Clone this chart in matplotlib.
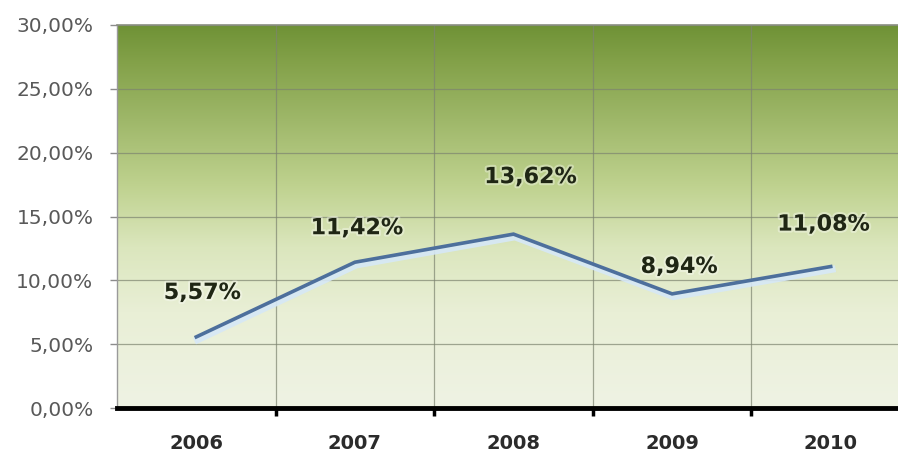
import matplotlib
matplotlib.use("Agg")
import matplotlib.pyplot as plt
import matplotlib.patheffects as pe
from matplotlib.colors import LinearSegmentedColormap
from matplotlib.ticker import FixedLocator, FuncFormatter
import numpy as np

matplotlib.rcParams['font.family'] = ['DejaVu Sans']

YEARS = ["2006", "2007", "2008", "2009", "2010"]
RATES = [5.57, 11.42, 13.62, 8.94, 11.08]
Y_TICKS = [0, 5, 10, 15, 20, 25, 30]

# label offsets from each point, in pixels
LABEL_OFFSETS = [(6, 44), (2, 34), (17, 57), (7, 27), (-7, 42)]

LINE_COLOR = "#4d6f9c"
GRID_COLOR = "#7d8470"


def pct(v, _pos=None):
    return f"{v:.2f}%".replace(".", ",")


def main():
    fig = plt.figure(figsize=(8.98, 4.55), dpi=100)
    ax = fig.add_axes([117 / 898, 47 / 455, 793 / 898, 383 / 455])

    x = np.arange(len(YEARS))
    ax.set_xlim(-0.5, len(YEARS) - 0.5)
    ax.set_ylim(0, 30)

    # vertical background gradient: olive at top fading to pale cream
    bg = LinearSegmentedColormap.from_list("bg", [
        (0.00, "#eff3e4"),
        (0.25, "#e9efd6"),
        (0.42, "#dbe6bd"),
        (0.58, "#bfd28f"),
        (0.75, "#9fb86a"),
        (0.90, "#84a24a"),
        (1.00, "#6f9236"),
    ])
    grad = np.linspace(0, 1, 256).reshape(-1, 1)
    ax.imshow(grad, cmap=bg, origin="lower", aspect="auto",
              extent=[0, 1, 0, 1], transform=ax.transAxes, zorder=0)

    # grid between categories and at every y tick
    bounds = np.arange(len(YEARS) - 1) + 0.5
    for b in bounds:
        ax.axvline(b, color=GRID_COLOR, lw=0.9, alpha=0.7, zorder=1)
    for t in Y_TICKS[1:]:
        ax.axhline(t, color=GRID_COLOR, lw=0.9, alpha=0.7, zorder=1)

    ax.plot(x, RATES, color=LINE_COLOR, lw=2.6, zorder=3,
            solid_joinstyle="miter",
            path_effects=[pe.SimpleLineShadow(offset=(1, -2), shadow_color="#d6e8f7",
                                              alpha=0.9, linewidth=5),
                          pe.Normal()])

    for xi, v, (dx, dy) in zip(x, RATES, LABEL_OFFSETS):
        ax.annotate(pct(v), xy=(xi, v), xytext=(dx, dy), textcoords="offset pixels",
                    ha="center", va="center", fontsize=16, fontweight="bold",
                    color="#1f2614", zorder=4,
                    path_effects=[pe.withStroke(linewidth=3, foreground="white", alpha=0.35)])

    ax.yaxis.set_major_locator(FixedLocator(Y_TICKS))
    ax.yaxis.set_major_formatter(FuncFormatter(pct))
    ax.tick_params(axis="y", length=5, width=1, color="#8c8c8c",
                   labelsize=14.5, labelcolor="#595959", pad=12)

    ax.set_xticks(x)
    ax.set_xticklabels(YEARS)
    ax.set_xticks(bounds, minor=True)
    ax.tick_params(axis="x", which="major", length=0, labelsize=14,
                   labelcolor="#2b2b2b", pad=19)
    for lbl in ax.get_xticklabels():
        lbl.set_fontweight("bold")
    ax.tick_params(axis="x", which="minor", length=6, width=2.5,
                   color="black", direction="out")

    ax.spines["bottom"].set_color("black")
    ax.spines["bottom"].set_linewidth(3.5)
    ax.spines["bottom"].set_zorder(5)
    ax.spines["left"].set_color("#9a9a9a")
    ax.spines["left"].set_linewidth(1)
    ax.spines["top"].set_color("#8a8f80")
    ax.spines["top"].set_linewidth(1.2)
    ax.spines["right"].set_visible(False)

    fig.savefig("out.png", dpi=100)
    plt.close(fig)


if __name__ == "__main__":
    main()
